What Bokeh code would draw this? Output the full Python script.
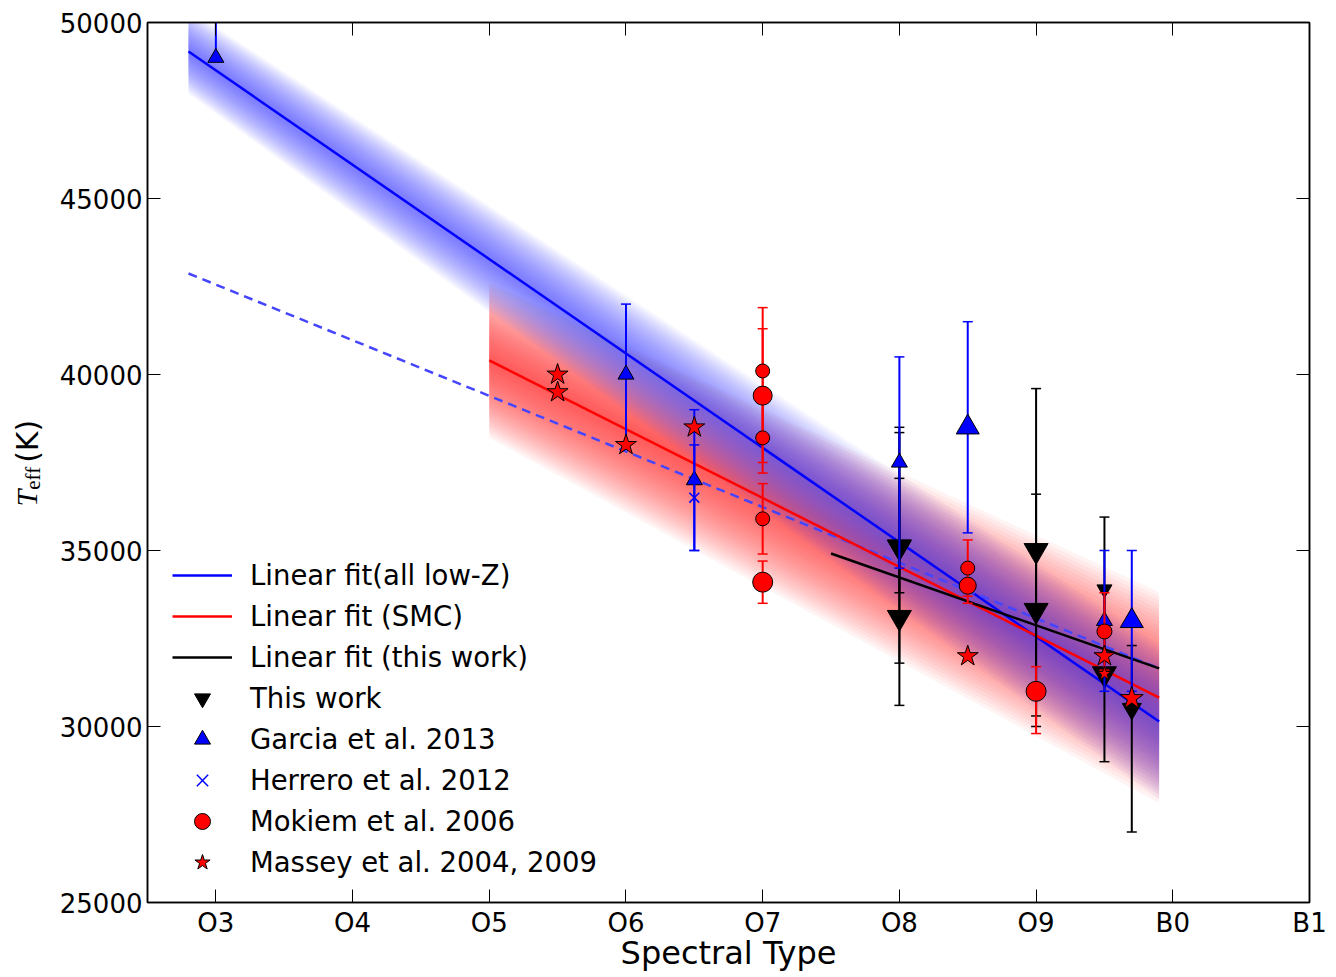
import numpy as np
from math import pi
from bokeh.plotting import figure
from bokeh.layouts import row
from bokeh.models import (FixedTicker, LinearAxis, Range1d, Legend, LegendItem)
from bokeh.core.properties import value
from bokeh.embed import file_html
from bokeh.resources import INLINE

# ---------------- data ----------------
spec_ticks = [3, 4, 5, 6, 7, 8, 9, 10, 11]
spec_labels = ["O3", "O4", "O5", "O6", "O7", "O8", "O9", "B0", "B1"]
teff_ticks = [25000, 30000, 35000, 40000, 45000, 50000]

# linear fits (end points) and their uncertainty band half-widths
fit_all_x = [2.8, 9.9]
fit_all_t = [49176, 30142]
fit_all_hw = [1200, 2200]

fit_smc_x = [5.0, 9.9]
fit_smc_t = [40400, 30820]
fit_smc_hw = [2200, 3000]

fit_this_x = [7.5, 9.9]
fit_this_t = [34915, 31650]

fit_dash_x = [2.8, 9.9]
fit_dash_t = [42870, 31650]

# This work
this_x = [8, 8, 8, 9, 9, 9.5, 9.5, 9.7]
this_t = [35100, 35100, 33100, 35000, 33300, 33900, 31500, 30500]
this_lo = [1300, 3300, 2500, 4700, 3300, 2050, 2500, 3500]
this_hi = [3400, 3250, 3950, 4600, 3300, 2050, 2500, 1800]

# Garcia et al. 2013
garcia_x = [3, 6, 6.5, 8, 8.5, 9.5, 9.7]
garcia_t = [49000, 40000, 37000, 37500, 38500, 33000, 33000]
garcia_lo = [0, 2000, 2000, 3000, 3000, 2000, 2000]
garcia_hi = [2000, 2000, 2000, 3000, 3000, 2000, 2000]

# Herrero et al. 2012
herrero_x = [6.5]
herrero_t = [36500]
herrero_lo = [1500]
herrero_hi = [1500]

# Mokiem et al. 2006
mokiem_x = [7, 7, 7, 7, 7, 8.5, 8.5, 9, 9.5]
mokiem_t = [40100, 39400, 38200, 35900, 34100, 34500, 34000, 31000, 32700]
mokiem_lo = [1800, 1900, 1000, 1000, 600, 800, 500, 1200, 1100]
mokiem_hi = [1800, 1900, 1000, 1000, 600, 800, 500, 700, 1100]

# Massey et al. 2004, 2009
massey_x = [5.5, 5.5, 6, 6.5, 8.5, 9.5, 9.5, 9.7]
massey_t = [40000, 39500, 38000, 38500, 32000, 32000, 31500, 30800]

# ---------------- styles ----------------
this_sizes = [24, 24, 24, 24, 24, 15, 24, 19]
garcia_sizes = [16, 16, 16, 16, 23, 16, 23]
herrero_sizes = [14]
mokiem_sizes = [14, 19, 14, 14, 20, 14, 17, 20, 15]
massey_sizes = [22, 22, 22, 22, 22, 22, 15, 24]

BLUE = "#0000ff"
RED = "#ff0000"
BLACK = "#000000"

X0, X1 = 2.5, 11.0
Y0, Y1 = 25000, 50000
LABW = 50          # width of the narrow y-label figure
PAGE_H = 975

p = figure(width=1282, height=PAGE_H,
           x_range=Range1d(X0, X1), y_range=Range1d(Y0, Y1),
           output_backend="svg", toolbar_location=None,
           min_border_left=147 - LABW, min_border_right=23,
           min_border_top=22, min_border_bottom=73)
p.grid.visible = False
p.outline_line_color = "black"
p.outline_line_width = 1.5
p.background_fill_color = "white"
p.border_fill_color = "white"

# axes
p.xaxis.ticker = FixedTicker(ticks=spec_ticks)
p.xaxis.major_label_overrides = {t: l for t, l in zip(spec_ticks, spec_labels)}
p.yaxis.ticker = FixedTicker(ticks=teff_ticks)
p.yaxis.formatter.use_scientific = False
for ax in (p.xaxis[0], p.yaxis[0]):
    ax.major_tick_in = 13
    ax.major_tick_out = 0
    ax.minor_tick_line_color = None
    ax.major_tick_line_width = 1
    ax.axis_line_width = 1.5
    ax.major_label_text_font = "DejaVu Sans"
    ax.major_label_text_font_size = "26px"
    ax.major_label_text_color = "black"
    ax.major_label_standoff = 5

p.xaxis.axis_label = "Spectral Type"
p.xaxis.axis_label_text_font = "DejaVu Sans"
p.xaxis.axis_label_text_font_size = "32px"
p.xaxis.axis_label_text_font_style = "normal"
p.xaxis.axis_label_text_color = "black"
p.xaxis.axis_label_standoff = -7

top_ax = LinearAxis(ticker=FixedTicker(ticks=spec_ticks), major_label_text_color=None,
                    major_label_text_font_size="10px",
                    major_tick_in=13, major_tick_out=0, minor_tick_line_color=None,
                    axis_line_width=1.5, major_label_standoff=0)
right_ax = LinearAxis(ticker=FixedTicker(ticks=teff_ticks), major_label_text_color=None,
                      major_label_text_font_size="10px",
                      major_tick_in=13, major_tick_out=0, minor_tick_line_color=None,
                      axis_line_width=1.5, major_label_standoff=0)
p.add_layout(top_ax, "above")
p.add_layout(right_ax, "right")


# ---------------- bands ----------------
def band(x, t, hw, color, alpha, n=25):
    x = np.asarray(x, float)
    t = np.asarray(t, float)
    hw = np.asarray(hw, float)
    for k in range(n, 0, -1):
        f = k / n
        p.varea(x=x, y1=t - hw * f, y2=t + hw * f, fill_color=color, fill_alpha=alpha)


band(fit_smc_x, fit_smc_t, fit_smc_hw, "#ff2020", 0.05)
band(fit_all_x, fit_all_t, fit_all_hw, "#3a3aff", 0.042)

# ---------------- fit lines ----------------
l_all = p.line(fit_all_x, fit_all_t, line_color=BLUE, line_width=2.5)
p.line(fit_dash_x, fit_dash_t, line_color="#4545ff", line_width=2.5, line_dash="9 6")
l_smc = p.line(fit_smc_x, fit_smc_t, line_color=RED, line_width=2.5)
l_this = p.line(fit_this_x, fit_this_t, line_color=BLACK, line_width=2.5)


# ---------------- data series ----------------
def series(x, t, lo, hi, color, marker, sizes, fill, mline="black", mwidth=1.0):
    x = np.asarray(x, float)
    t = np.asarray(t, float)
    if lo is not None:
        lo = np.asarray(lo, float)
        hi = np.asarray(hi, float)
        p.segment(x0=x, y0=t - lo, x1=x, y1=t + hi, line_color=color, line_width=2)
        p.scatter(x=np.r_[x, x], y=np.r_[t - lo, t + hi], marker="dash", size=10,
                  line_color=color, line_width=1.5)
    return p.scatter(x=x, y=t, marker=marker, size=sizes, fill_color=fill,
                     line_color=mline, line_width=mwidth)


r_this = series(this_x, this_t, this_lo, this_hi, BLACK, "inverted_triangle", this_sizes, BLACK)
r_garcia = series(garcia_x, garcia_t, garcia_lo, garcia_hi, BLUE, "triangle", garcia_sizes, BLUE)
r_herrero = series(herrero_x, herrero_t, herrero_lo, herrero_hi, BLUE, "x", herrero_sizes, BLUE,
                   mline=BLUE, mwidth=1.5)
r_mokiem = series(mokiem_x, mokiem_t, mokiem_lo, mokiem_hi, RED, "circle", mokiem_sizes, RED)
r_massey = series(massey_x, massey_t, None, None, RED, "star", massey_sizes, RED)

# ---------------- legend ----------------
legend = Legend(items=[
    LegendItem(label="Linear fit(all low-Z)", renderers=[l_all]),
    LegendItem(label="Linear fit (SMC)", renderers=[l_smc]),
    LegendItem(label="Linear fit (this work)", renderers=[l_this]),
    LegendItem(label="This work", renderers=[r_this]),
    LegendItem(label="Garcia et al. 2013", renderers=[r_garcia]),
    LegendItem(label="Herrero et al. 2012", renderers=[r_herrero]),
    LegendItem(label="Mokiem et al. 2006", renderers=[r_mokiem]),
    LegendItem(label="Massey et al. 2004, 2009", renderers=[r_massey]),
], location=(25, 20), glyph_width=60, glyph_height=40, spacing=1, padding=0, margin=0,
    label_standoff=18, label_text_font="DejaVu Sans", label_text_font_size="27.5px",
    label_text_color="black", border_line_alpha=0, background_fill_alpha=0)
p.add_layout(legend)

# ---------------- y-axis title (narrow side figure, pixel coordinates) ----------------
lab = figure(width=LABW, height=PAGE_H, x_range=Range1d(0, LABW), y_range=Range1d(PAGE_H, 0),
             output_backend="svg", toolbar_location=None,
             x_axis_type=None, y_axis_type=None, min_border=0)
lab.grid.visible = False
lab.outline_line_color = None
lab.border_fill_color = "white"
lab.background_fill_color = "white"
lab.text(x=[26], y=[527], text=["T"], angle=pi / 2, text_align="center",
         text_baseline="middle", text_font=value("Liberation Serif"),
         text_font_style="italic", text_font_size="30px", text_color="black")
lab.text(x=[32], y=[505], text=["eff"], angle=pi / 2, text_align="center",
         text_baseline="middle", text_font=value("Liberation Serif"),
         text_font_size="21px", text_color="black")
lab.text(x=[27], y=[464], text=["(K)"], angle=pi / 2, text_align="center",
         text_baseline="middle", text_font=value("DejaVu Sans"),
         text_font_size="30px", text_color="black")

layout = row(lab, p)
open("out.html", "w").write(file_html(layout, INLINE))
